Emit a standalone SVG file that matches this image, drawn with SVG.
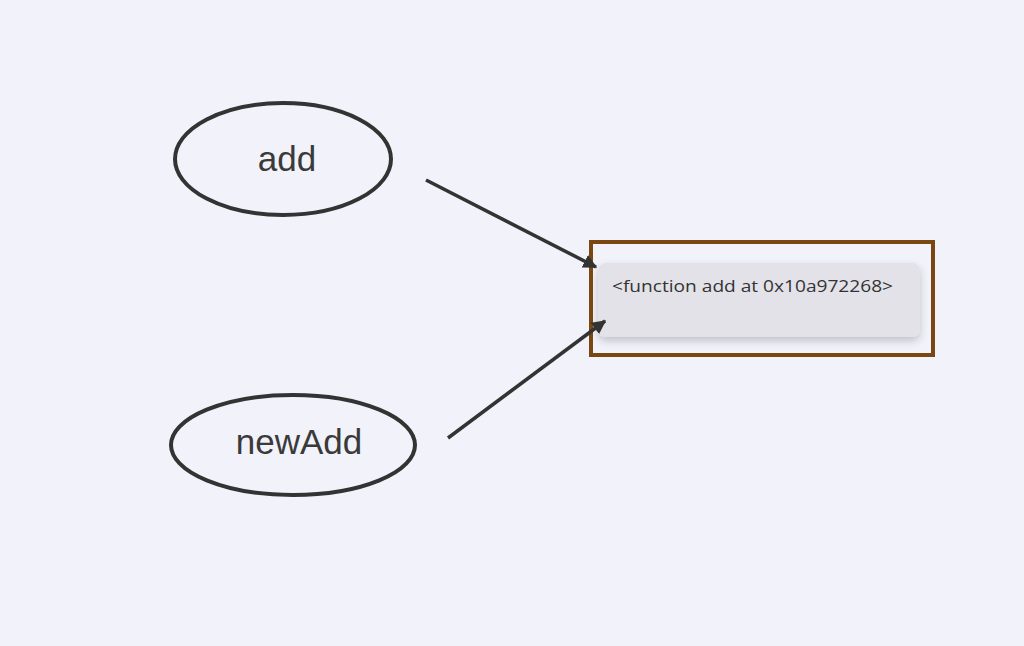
<svg xmlns="http://www.w3.org/2000/svg" width="1024" height="646" viewBox="0 0 1024 646">
<style>
.node ellipse{fill:none;stroke:#333;stroke-width:4}
.lbl{font-family:"Liberation Sans",Arial,sans-serif;font-size:35px;fill:#3a3a3a;text-anchor:middle}
.edge{stroke:#333;stroke-width:3.5;fill:none;marker-end:url(#ah)}
.val{font-family:"Open Sans","Liberation Sans",Arial,sans-serif;font-size:16px;fill:#333}
</style>
<defs>
<marker id="ah" viewBox="0 0 10 10" refX="9" refY="5" markerWidth="4" markerHeight="4" orient="auto" markerUnits="strokeWidth">
<path d="M0,0 L10,5 L0,10 z" fill="#333"/>
</marker>
<filter id="sh" x="-10%" y="-20%" width="120%" height="150%">
<feDropShadow dx="0" dy="4" stdDeviation="4" flood-color="#000" flood-opacity="0.2"/>
</filter>
</defs>
<rect width="1024" height="646" fill="#f2f2fa"/>
<g id="node-add" class="node">
<ellipse cx="283" cy="159" rx="108" ry="56"/>
<text class="lbl" x="287" y="171">add</text>
</g>
<g id="node-newAdd" class="node">
<ellipse cx="293" cy="445" rx="122" ry="50"/>
<text class="lbl" x="299" y="454">newAdd</text>
</g>
<g id="node-func">
<rect x="598" y="263" width="322" height="74" rx="8" fill="#e3e2e8" filter="url(#sh)"/>
<rect x="591" y="242" width="342" height="113" fill="none" stroke="#7a4712" stroke-width="4"/>
<text class="val" x="612" y="292" textLength="281" lengthAdjust="spacingAndGlyphs">&lt;function add at 0x10a972268&gt;</text>
</g>
<g id="connectors">
<line class="edge" x1="426" y1="180" x2="596" y2="267"/>
<line class="edge" x1="448" y1="438" x2="605" y2="321"/>
</g>
</svg>
